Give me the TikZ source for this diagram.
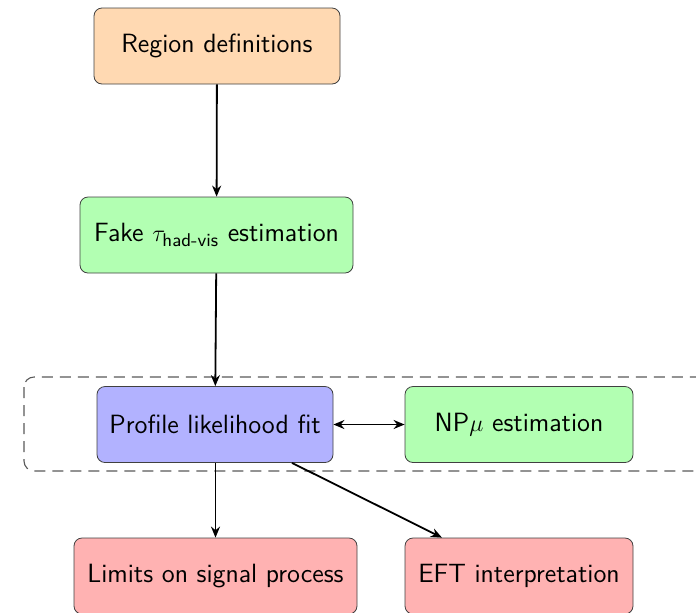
\documentclass[tikz,border=0pt]{standalone}
\usepackage{amsmath}
\usetikzlibrary{arrows.meta}
\tikzset{
  box/.style={draw=black!75, rounded corners=4pt, minimum height=38pt, inner sep=0pt, font=\fontsize{13.2}{15.8}\selectfont\sffamily, align=center},
  arr/.style={-{Stealth[length=5.5pt,width=4.5pt]}, line width=0.9pt, black},
  dbl/.style={{Stealth[length=5.5pt,width=4.5pt]}-{Stealth[length=5.5pt,width=4.5pt]}, line width=0.9pt, black},
}
\begin{document}
\begin{tikzpicture}[x=0.5pt,y=-0.5pt]
\useasboundingbox (0,0) rectangle (696,612);
\draw[black!65, line width=0.55pt, dash pattern=on 5.5pt off 3.5pt, rounded corners=5pt] (24,377) rectangle (730,471);
\node[box, fill=orange!30, minimum width=123pt] (reg) at (217,46) {Region definitions};
\node[box, fill=green!30, minimum width=136.5pt] (fake) at (216.5,235) {Fake $\tau_{\text{had-vis}}$ estimation};
\node[box, fill=blue!30, minimum width=118pt] (pl) at (215,424.5) {Profile likelihood fit};
\node[box, fill=green!30, minimum width=114pt] (np) at (519,424.5) {NP$\mu$ estimation};
\node[box, fill=red!30, minimum width=141.5pt] (lim) at (215.5,576) {Limits on signal process};
\node[box, fill=red!30, minimum width=114pt] (eft) at (519,576) {EFT interpretation};
\draw[arr] (reg) -- (fake);
\draw[arr] (fake) -- (pl);
\draw[dbl] (pl) -- (np);
\draw[arr] (pl.south -| lim.north) -- (lim);
\draw[arr] (pl) -- (eft);
\end{tikzpicture}
\end{document}
